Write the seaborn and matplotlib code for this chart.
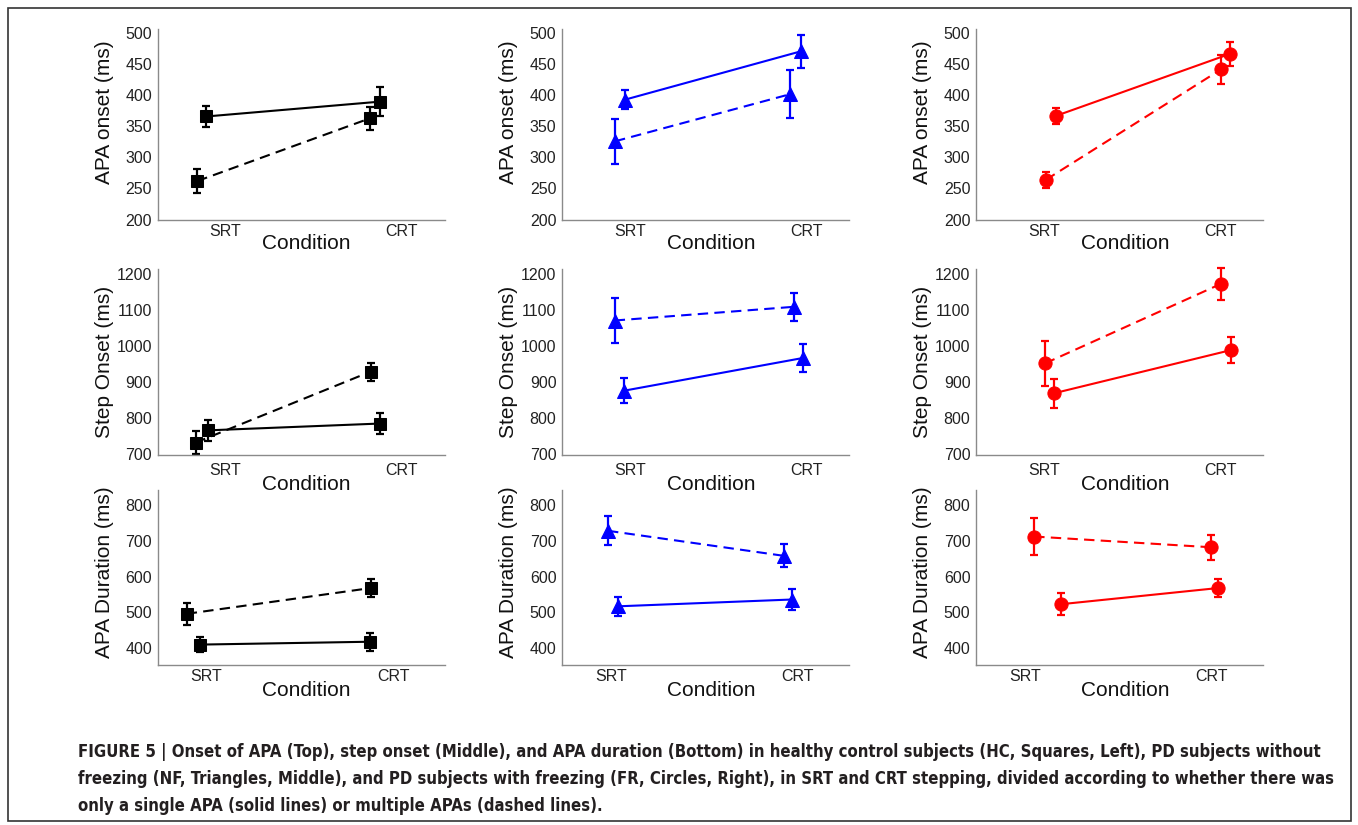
import numpy as np
import pandas as pd
import matplotlib
matplotlib.use("Agg")
import matplotlib.pyplot as plt
import seaborn as sns
from matplotlib import font_manager as fm
from matplotlib.patches import Rectangle

# ---- data ----
conditions = ["SRT", "CRT"]
groups = ["HC", "NF", "FR"]
measures = ["APA onset (ms)", "Step Onset (ms)", "APA Duration (ms)"]

# each list: [HC, NF, FR], each entry [SRT, CRT]
apa_onset_single = [[366, 390], [393, 471], [367, 467]]
apa_onset_single_err = [[17, 24], [15, 27], [13, 19]]
apa_onset_multi = [[262, 363], [326, 402], [264, 442]]
apa_onset_multi_err = [[19, 18], [36, 39], [13, 23]]

step_onset_single = [[767, 786], [877, 968], [870, 990]]
step_onset_single_err = [[29, 30], [34, 40], [40, 37]]
step_onset_multi = [[733, 930], [1072, 1110], [953, 1174]]
step_onset_multi_err = [[31, 25], [62, 38], [63, 44]]

apa_dur_single = [[410, 418], [517, 536], [523, 568]]
apa_dur_single_err = [[21, 25], [27, 28], [30, 26]]
apa_dur_multi = [[496, 568], [728, 658], [712, 682]]
apa_dur_multi_err = [[30, 24], [40, 32], [51, 35]]

caption = [
    "FIGURE 5 | Onset of APA (Top), step onset (Middle), and APA duration (Bottom) in healthy control subjects (HC, Squares, Left), PD subjects without",
    "freezing (NF, Triangles, Middle), and PD subjects with freezing (FR, Circles, Right), in SRT and CRT stepping, divided according to whether there was",
    "only a single APA (solid lines) or multiple APAs (dashed lines).",
]

# ---- styling / layout ----
colors = ["#000000", "#0000ff", "#ff0000"]
markers = ["s", "^", "o"]
msizes = [9, 10.5, 9.5]

# x shift of the points from the condition position: [row][col] -> (single, multi)
dodge = [
    [((-0.11, -0.12), (-0.16, -0.18)), ((-0.03, -0.03), (-0.085, -0.09)), ((0.068, 0.057), (0.011, 0.006))],
    [((-0.10, -0.12), (-0.17, -0.176)), ((-0.035, -0.017), (-0.087, -0.07)), ((0.057, 0.063), (0.006, 0.006))],
    [((-0.037, -0.128), (-0.106, -0.122)), ((0.038, -0.032), (-0.016, -0.075)), ((0.195, 0.032), (0.049, -0.005))],
]

rows = [
    (apa_onset_single, apa_onset_single_err, apa_onset_multi, apa_onset_multi_err),
    (step_onset_single, step_onset_single_err, step_onset_multi, step_onset_multi_err),
    (apa_dur_single, apa_dur_single_err, apa_dur_multi, apa_dur_multi_err),
]

W, H = 1358, 825
row_px = [(29, 219.5), (269, 454.5), (490, 665)]
col_px = [157.5, 562, 976]
ax_w = 287
xlims = [(-0.386, 1.244), (-0.386, 1.244), (-0.262, 1.273)]
ylims = [(200, 507), (700, 1215), (353, 842)]
yticks = [np.arange(200, 501, 50), np.arange(700, 1201, 100), np.arange(400, 801, 100)]
xpad = [3, 6, 3]
xlabel_drop = [24, 30, 25]
ylabel_y = [0.565, 0.5, 0.53]

sns.set_theme(style="white")
plt.rcParams["font.family"] = ["Liberation Sans", "DejaVu Sans"]

fig = plt.figure(figsize=(W / 100, H / 100), dpi=100)

for r in range(3):
    single, single_err, multi, multi_err = rows[r]
    top, bot = row_px[r]
    for c in range(3):
        ax = fig.add_axes([col_px[c] / W, 1 - bot / H, ax_w / W, (bot - top) / H])
        d_single, d_multi = dodge[r][c]
        df = pd.DataFrame({
            "x": [0 + d_single[0], 1 + d_single[1], 0 + d_multi[0], 1 + d_multi[1]],
            "y": single[c] + multi[c],
            "err": single_err[c] + multi_err[c],
            "apa": ["single", "single", "multi", "multi"],
        })
        col = colors[c]
        eb = ax.errorbar(df["x"], df["y"], yerr=df["err"], fmt="none", ecolor=col,
                         elinewidth=1.6, capsize=3, capthick=1.6, zorder=2)
        for part in eb.lines[1] + eb.lines[2]:
            part.set_clip_on(False)
        sns.lineplot(data=df, x="x", y="y", style="apa",
                     dashes={"single": "", "multi": (5, 3)},
                     markers={"single": markers[c], "multi": markers[c]},
                     color=col, markersize=msizes[c], markeredgecolor=col,
                     linewidth=1.5, legend=False, estimator=None, sort=False,
                     ax=ax, zorder=3)

        ax.set_xlim(*xlims[r])
        ax.set_ylim(*ylims[r])
        ax.set_xticks([0, 1])
        ax.set_xticklabels(conditions)
        ax.set_yticks(yticks[r])
        sns.despine(ax=ax)
        for s in ["left", "bottom"]:
            ax.spines[s].set_color("#8a8a8a")
            ax.spines[s].set_linewidth(1.0)
        ax.tick_params(axis="y", direction="in", length=3, width=1, color="#8a8a8a",
                       labelsize=11.5, pad=4, labelcolor="#222222")
        ax.tick_params(axis="x", length=0, labelsize=11.5, pad=xpad[r], labelcolor="#222222")

        ax.set_xlabel("Condition", fontsize=15, color="#111111")
        ax.xaxis.label.set_va("center")
        ax.xaxis.set_label_coords(0.52, -xlabel_drop[r] / (bot - top))
        ax.set_ylabel(measures[r], fontsize=15, color="#111111")
        ax.yaxis.label.set_va("center")
        ax.yaxis.set_label_coords(-0.185, ylabel_y[r])

# caption in a condensed bold face if one is installed
cap_font = {"family": "DejaVu Sans", "stretch": "condensed"}
found = fm.findfont(fm.FontProperties(family="DejaVu Sans", stretch="condensed", weight="bold"))
if "ondensed" not in found:
    cap_font = {"family": "Liberation Sans"}

cap_y = [752, 779, 806]
texts = []
for line, y in zip(caption, cap_y):
    t = fig.text(78 / W, 1 - y / H, line, fontsize=12, fontweight="bold",
                 color="#231f20", va="center", ha="left", **cap_font)
    texts.append(t)
fig.canvas.draw()
w = texts[0].get_window_extent().width
size = 12 * 1240 / w
for t in texts:
    t.set_fontsize(size)

fig.patches.append(Rectangle((8 / W, 4 / H), 1343 / W, 813 / H, transform=fig.transFigure,
                             fill=False, edgecolor="#333333", linewidth=1.2))

fig.savefig("out.png", dpi=100)
